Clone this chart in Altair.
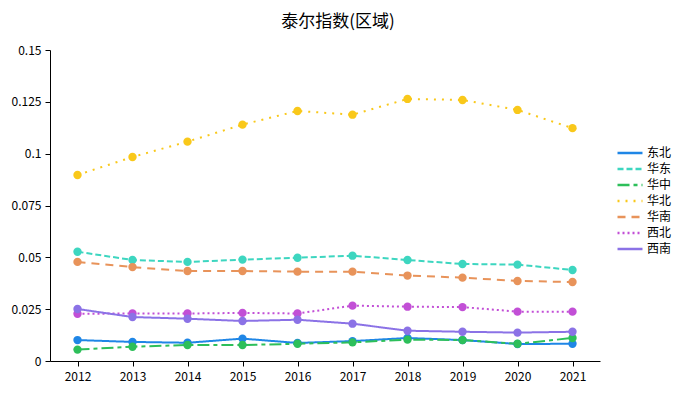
import altair as alt
import pandas as pd

years = ["2012", "2013", "2014", "2015", "2016", "2017", "2018", "2019", "2020", "2021"]
regions = ["东北", "华东", "华中", "华北", "华南", "西北", "西南"]

dongbei = [0.0101, 0.0092, 0.0088, 0.0108, 0.0087, 0.0096, 0.0111, 0.0101, 0.0082, 0.0083]
huadong = [0.0527, 0.0487, 0.0478, 0.0489, 0.0498, 0.0508, 0.0487, 0.0468, 0.0465, 0.0439]
huazhong = [0.0055, 0.0069, 0.0077, 0.0077, 0.0083, 0.0090, 0.0103, 0.0101, 0.0083, 0.0111]
huabei = [0.0897, 0.0984, 0.1058, 0.1140, 0.1206, 0.1188, 0.1264, 0.1259, 0.1211, 0.1123]
huanan = [0.0478, 0.0453, 0.0434, 0.0434, 0.0431, 0.0431, 0.0412, 0.0402, 0.0386, 0.0381]
xibei = [0.0228, 0.0229, 0.0229, 0.0232, 0.0229, 0.0267, 0.0262, 0.0260, 0.0238, 0.0238]
xinan = [0.0251, 0.0212, 0.0204, 0.0193, 0.0199, 0.0180, 0.0146, 0.0141, 0.0137, 0.0141]

colors = ["#1f86e6", "#3dd6c0", "#2dbf5a", "#f9c81a", "#e8935a", "#c24fd6", "#8b72e6"]
dashes = [[1, 0], [6, 3], [12, 4, 4, 4], [2, 6], [8, 6], [2, 3], [1, 0]]

series = [dongbei, huadong, huazhong, huabei, huanan, xibei, xinan]
rows = []
for name, vals in zip(regions, series):
    for y, v in zip(years, vals):
        rows.append({"year": y, "region": name, "value": v})
df = pd.DataFrame(rows)

FONT = "Noto Sans CJK SC"

x = alt.X("year:O", title=None, scale=alt.Scale(type="point", padding=0.5),
          axis=alt.Axis(labelAngle=0, labelFontSize=12, labelColor="#000", domainColor="#000",
                        tickColor="#000", grid=False, labelFont=FONT, labelPadding=5))
y = alt.Y("value:Q", title=None, scale=alt.Scale(domain=[0, 0.15], nice=False),
          axis=alt.Axis(values=[0, 0.025, 0.05, 0.075, 0.1, 0.125, 0.15], format=".3~f",
                        labelFontSize=12, labelColor="#000", domainColor="#000",
                        tickColor="#000", grid=False, labelFont=FONT, labelPadding=4))

color_scale = alt.Scale(domain=regions, range=colors)

lines = alt.Chart(df).mark_line(strokeWidth=2).encode(
    x=x, y=y,
    color=alt.Color("region:N", scale=color_scale, sort=regions,
                    legend=alt.Legend(title=None, orient="none", legendX=574, legendY=97,
                                      symbolType="M-4,0L4,0", symbolSize=39, symbolStrokeWidth=2.5,
                                      labelFontSize=12, labelFont=FONT, labelColor="#000",
                                      rowPadding=4, labelOffset=11)),
    strokeDash=alt.StrokeDash("region:N", scale=alt.Scale(domain=regions, range=dashes), sort=regions,
                              legend=None),
    detail="region:N",
)

points = alt.Chart(df).mark_circle(size=70, opacity=1).encode(
    x=x, y=y,
    color=alt.Color("region:N", scale=color_scale, legend=None),
)

chart = alt.layer(lines, points).properties(
    width=550, height=311,
    autosize=alt.AutoSizeParams(type="none"),
    padding={"left": 42, "top": 42, "right": 72, "bottom": 29},
    title=alt.TitleParams("泰尔指数(区域)", font=FONT, fontSize=17, fontWeight="normal",
                          color="#000", anchor="middle", offset=13, dx=13),
).configure_view(stroke=None)

chart.save("out.html", embed_options={"renderer": "svg", "actions": False})
